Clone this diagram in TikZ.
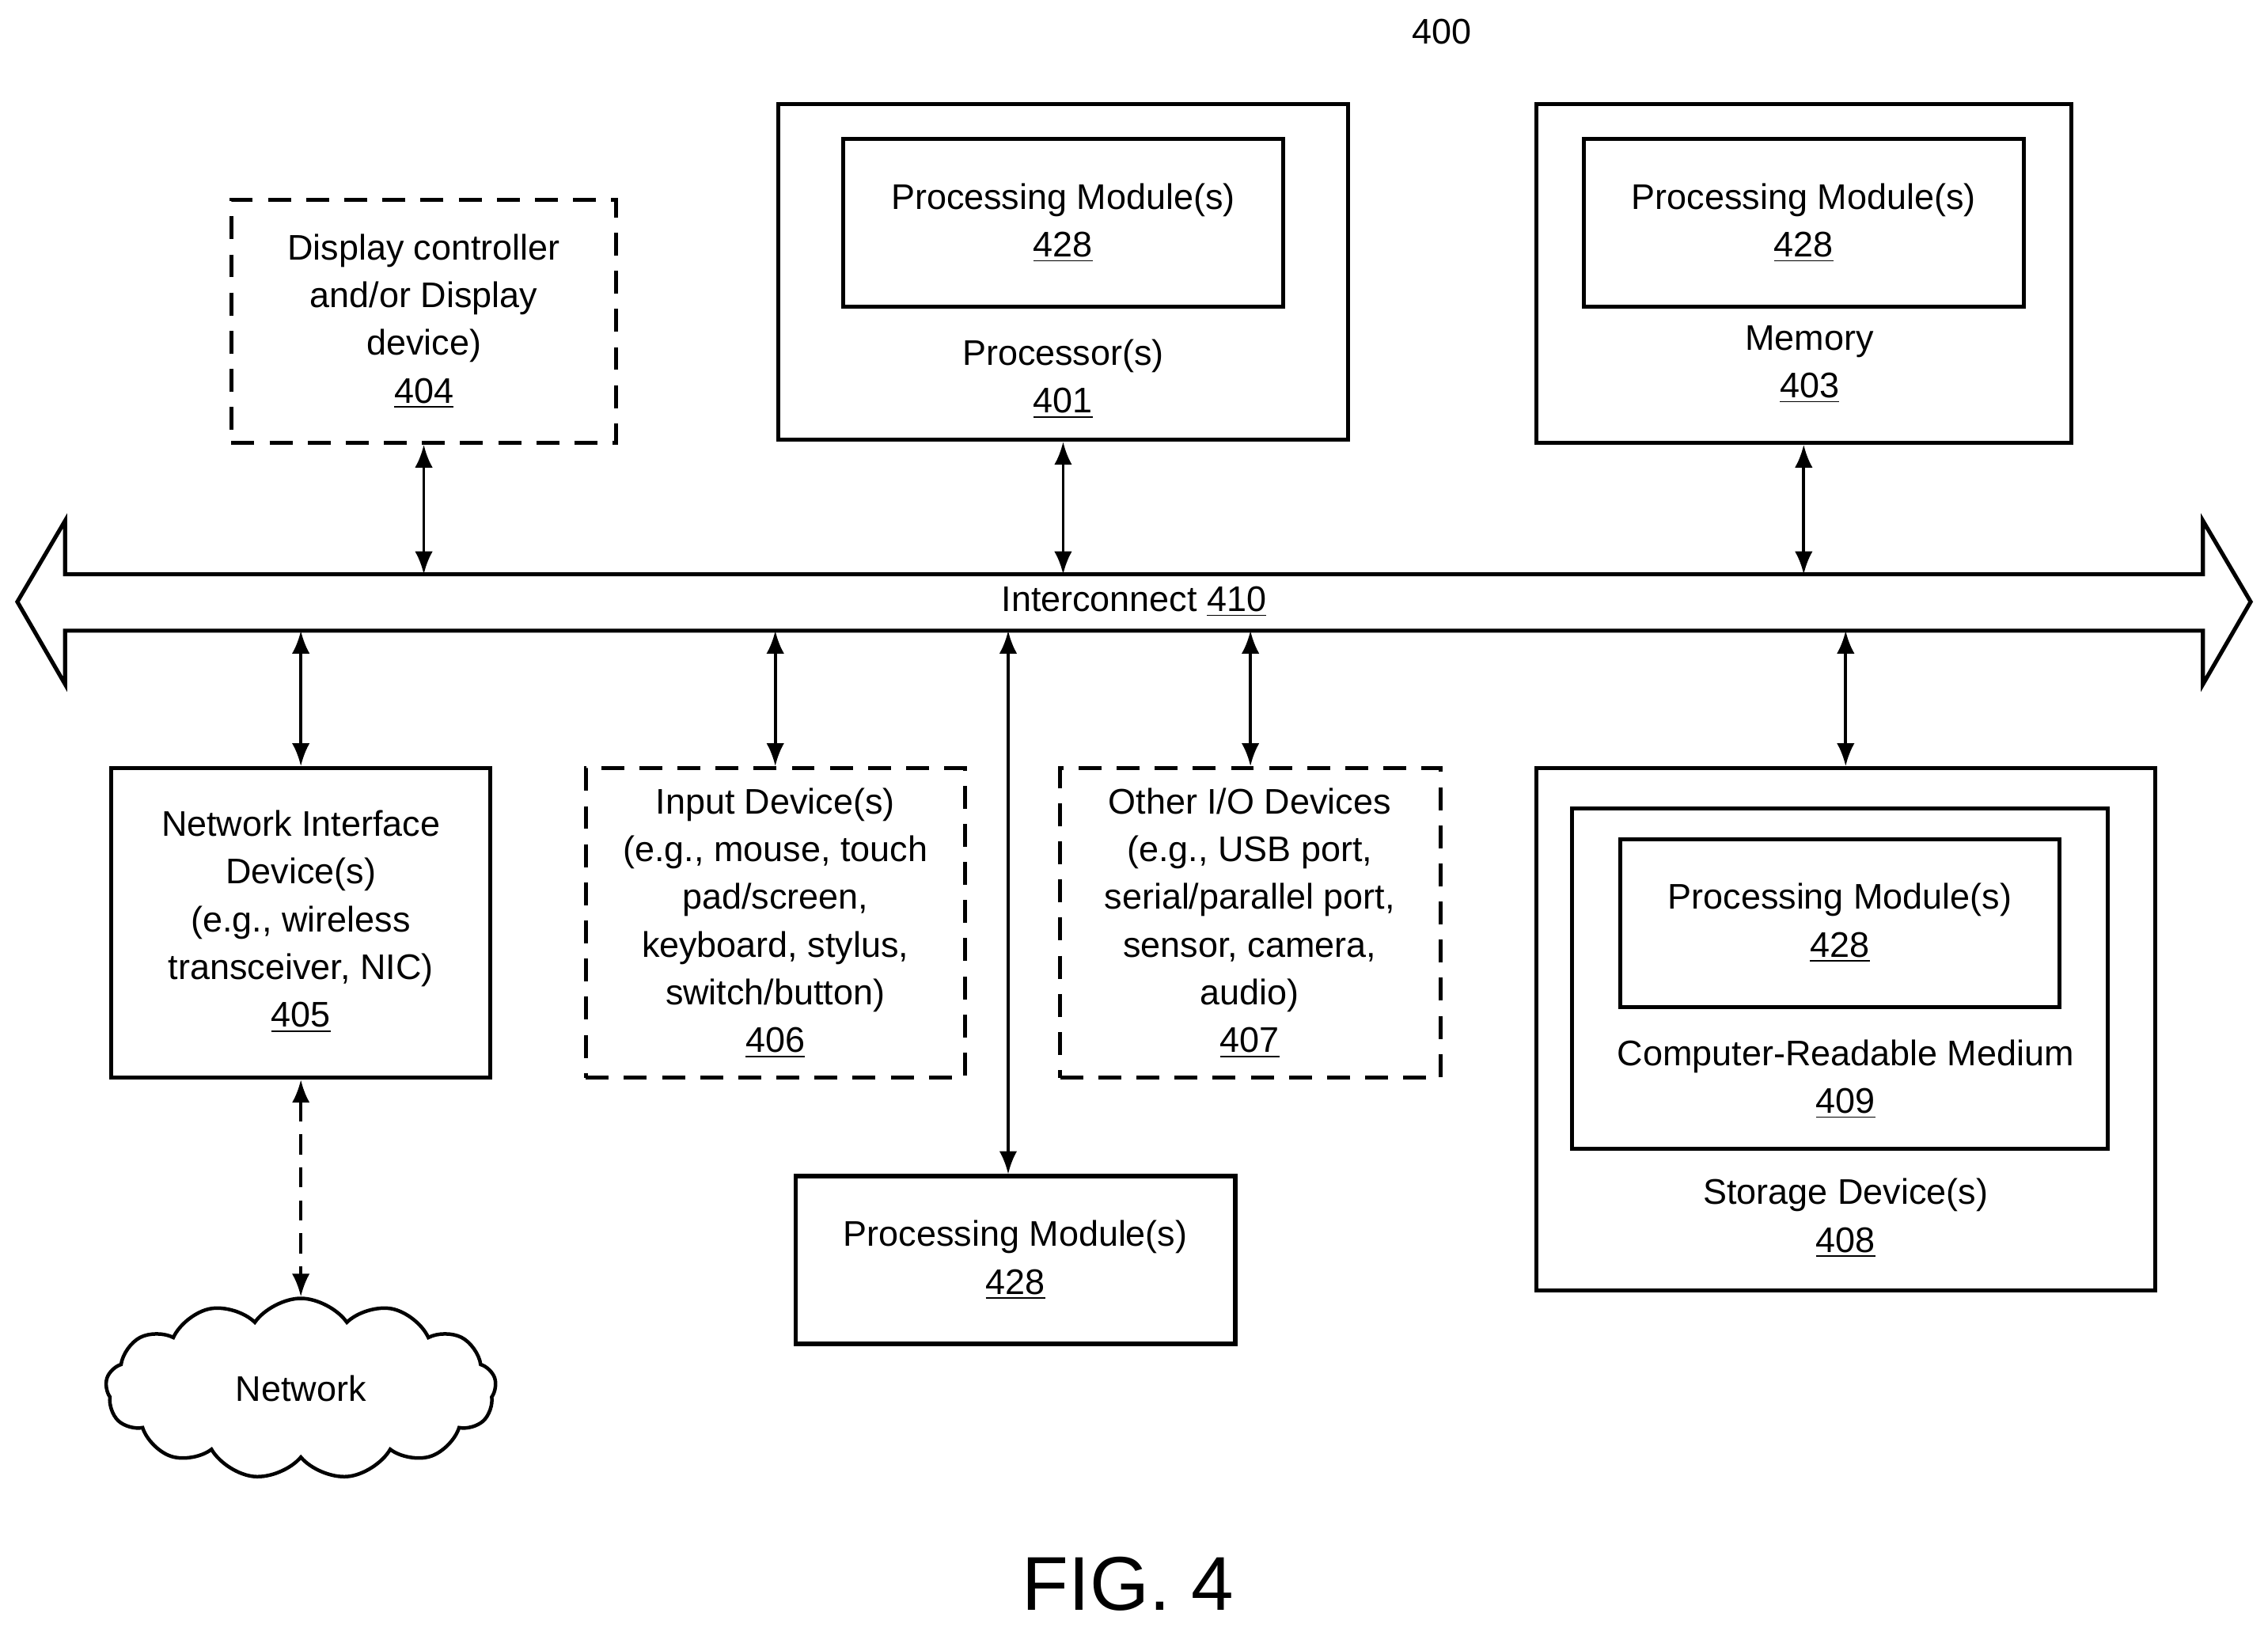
\documentclass[tikz,border=0pt]{standalone}
\usepackage{fontspec}
\setmainfont{Liberation Sans}
\usetikzlibrary{fit,shapes.symbols,arrows.meta}
\begin{document}
\begin{tikzpicture}[x=0.02cm,y=-0.02cm,
  box/.style={draw,line width=1.6pt,inner sep=0pt},
  dbox/.style={box,dash pattern=on 9pt off 6pt},
  txt/.style={align=center,font=\fontsize{14}{18.8}\selectfont,inner sep=0pt},
  conn/.style={line width=1.2pt,{Latex[length=9pt,width=7pt]}-{Latex[length=9pt,width=7pt]}}]
\useasboundingbox (0,0) rectangle (1568,1125);
\node[txt] (lbl) at (997,22) {400};
% top
\node[dbox,fit={(160,138) (426,306)}] (disp) {};
\node[txt] (dispt) at (293,222) {Display controller\\and/or Display\\device)\\\underline{404}};
\node[box,fit={(538,72) (932,304)}] (proc) {};
\node[box,fit={(583,96) (887,212)}] (ppm) {};
\node[txt] (ppmt) at (735,154) {Processing Module(s)\\\underline{428}};
\node[txt] (proct) at (735,262) {Processor(s)\\\underline{401}};
\node[box,fit={(1062,72) (1432,306)}] (mem) {};
\node[box,fit={(1095,96) (1399,212)}] (mpm) {};
\node[txt] (mpmt) at (1247,154) {Processing Module(s)\\\underline{428}};
\node[txt] (memt) at (1251,252) {Memory\\\underline{403}};
% bus
\coordinate (bt) at (0,397);
\coordinate (bb) at (0,436);
\draw[line width=1.6pt,fill=white] (12,416) -- (45,360) -- (45,397) -- (1523,397) -- (1523,360) -- (1556,416)
  -- (1523,473) -- (1523,436) -- (45,436) -- (45,473) -- cycle;
\node[txt] (bus) at (784,416) {Interconnect \underline{410}};
% bottom
\node[box,fit={(77,531) (339,745)}] (nic) {};
\node[txt] (nict) at (208,637) {Network Interface\\Device(s)\\(e.g., wireless\\transceiver, NIC)\\\underline{405}};
\node[dbox,fit={(405,531) (667,745)}] (inp) {};
\node[txt] (inpt) at (536,638) {Input Device(s)\\(e.g., mouse, touch\\pad/screen,\\keyboard, stylus,\\switch/button)\\\underline{406}};
\node[dbox,fit={(733,531) (996,745)}] (oio) {};
\node[txt] (oiot) at (864,638) {Other I/O Devices\\(e.g., USB port,\\serial/parallel port,\\sensor, camera,\\audio)\\\underline{407}};
\node[box,fit={(550,813) (854,929)}] (pm) {};
\node[txt] (pmt) at (702,871) {Processing Module(s)\\\underline{428}};
\node[box,fit={(1062,531) (1490,892)}] (stor) {};
\node[box,fit={(1087,559) (1457,794)}] (crm) {};
\node[box,fit={(1120,580) (1424,696)}] (spm) {};
\node[txt] (spmt) at (1272,638) {Processing Module(s)\\\underline{428}};
\node[txt] (crmt) at (1276,746) {Computer-Readable Medium\\\underline{409}};
\node[txt] (stort) at (1276,842) {Storage Device(s)\\\underline{408}};
\node[cloud,draw,line width=1.4pt,cloud puffs=13,cloud puff arc=110,aspect=2.2,minimum width=5.4cm,minimum height=2.5cm,txt] (net) at (208,960) {Network};
% connectors
\draw[conn] (disp.south) -- (disp.south |- bt);
\draw[conn] (proc.south) -- (proc.south |- bt);
\draw[conn] (mem.south) -- (mem.south |- bt);
\draw[conn] (nic.north) -- (nic.north |- bb);
\draw[conn] (inp.north) -- (inp.north |- bb);
\draw[conn] ([xshift=-0.1cm]pm.north) -- ([xshift=-0.1cm]pm.north |- bb);
\draw[conn] (oio.north) -- (oio.north |- bb);
\draw[conn] (stor.north) -- (stor.north |- bb);
\draw[conn,dash pattern=on 8pt off 5pt] (nic.south) -- (net.north);
\node[font=\fontsize{30}{36}\selectfont,inner sep=0pt] (fig) at (780,1095) {FIG. 4};
\end{tikzpicture}
\end{document}
